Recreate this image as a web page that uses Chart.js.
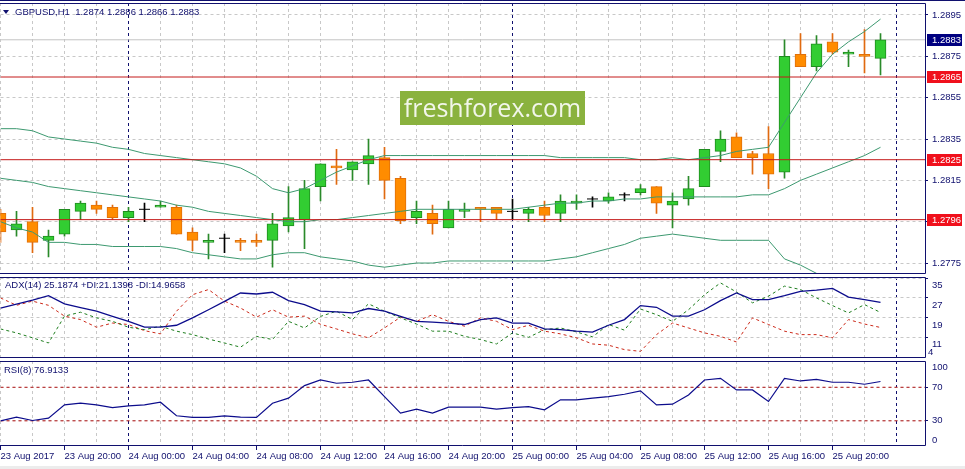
<!DOCTYPE html>
<html>
<head>
<meta charset="utf-8">
<script src="https://cdn.jsdelivr.net/npm/chart.js@4.4.1/dist/chart.umd.min.js"></script>
<style>
  html, body { margin: 0; padding: 0; background: #fff; }
  #wrap { position: relative; width: 965px; height: 469px; overflow: hidden; background: #fff;
          font-family: "Liberation Sans", Arial, sans-serif; }
  #wrap canvas { position: absolute; left: 0; }
  .ttl { position: absolute; font-size: 9.5px; line-height: 12px; color: #10106e; white-space: pre; }
  #tri { position: absolute; left: 3px; top: 10px; width: 0; height: 0;
         border-left: 3.5px solid transparent; border-right: 3.5px solid transparent; border-top: 4px solid #10106e; }
  #wm { position: absolute; left: 400px; top: 91px; width: 185px; height: 34px; background: #8ab23e;
        color: #f2f6ea; font-family: "Open Sans", sans-serif; font-size: 25px; line-height: 33px; text-align: center; }
  #foot { position: absolute; left: 0; top: 466px; width: 965px; height: 3px; background: #ececec; }
</style>
</head>
<body>
<div id="wrap">
  <canvas id="cMain" width="965" height="276" style="top:0"></canvas>
  <canvas id="cAdx" width="965" height="84" style="top:276px"></canvas>
  <canvas id="cRsi" width="965" height="106" style="top:360px"></canvas>
  <div id="tri"></div>
  <div class="ttl" id="tMain" style="left:15px;top:6px"></div>
  <div class="ttl" style="left:5px;top:279px">ADX(14) 25.1874 +DI:21.1398 -DI:14.9658</div>
  <div class="ttl" style="left:4px;top:364px">RSI(8) 76.9133</div>
  <div id="wm">freshforex.com</div>
  <div id="foot"></div>
</div>
<script>
// GBPUSD H1, index 0 = 23 Aug 16:00, last = 25 Aug 23:00
const opens  = [1.2799,1.2791,1.2795,1.2786,1.2789,1.2800,1.2803,1.2802,1.2797,1.2801,
                1.2802,1.2802,1.2790,1.2785,1.2787,1.2786,1.2786,1.2786,1.2793,1.2796,
                1.2812,1.2822,1.2820,1.2823,1.2826,1.2816,1.2797,1.2799,1.2792,1.2800,
                1.2802,1.2802,1.2800,1.2799,1.2802,1.2799,1.2804,1.2806,1.2805,1.2808,
                1.2809,1.2812,1.2803,1.2806,1.2812,1.2829,1.2836,1.2828,1.2828,1.2819,
                1.2876,1.2870,1.2882,1.2876,1.2876,1.2874];
const highs  = [1.2801,1.2800,1.2802,1.2791,1.2801,1.2805,1.2805,1.2803,1.2802,1.2804,
                1.2805,1.2803,1.2792,1.2789,1.2789,1.2787,1.2789,1.2799,1.2812,1.2815,
                1.2823,1.2830,1.2824,1.2835,1.2831,1.2817,1.2805,1.2803,1.2805,1.2804,
                1.2802,1.2802,1.2806,1.2802,1.2805,1.2808,1.2808,1.2807,1.2809,1.2809,
                1.2813,1.2812,1.2809,1.2817,1.2830,1.2839,1.2838,1.2829,1.2841,1.2883,
                1.2886,1.2885,1.2886,1.2878,1.2888,1.2886];
const lows   = [1.2785,1.2788,1.2780,1.2778,1.2788,1.2796,1.2799,1.2796,1.2795,1.2795,
                1.2802,1.2789,1.2781,1.2777,1.2780,1.2781,1.2783,1.2773,1.2790,1.2782,
                1.2805,1.2813,1.2815,1.2813,1.2806,1.2794,1.2794,1.2789,1.2792,1.2797,
                1.2795,1.2796,1.2796,1.2795,1.2795,1.2795,1.2801,1.2802,1.2804,1.2805,
                1.2808,1.2799,1.2792,1.2803,1.2812,1.2824,1.2826,1.2818,1.2811,1.2816,
                1.2870,1.2868,1.2876,1.2870,1.2867,1.2866];
const closes = [1.2790,1.2794,1.2785,1.2788,1.2801,1.2804,1.2801,1.2797,1.2800,1.2801,
                1.2803,1.2789,1.2786,1.2786,1.2787,1.2785,1.2785,1.2794,1.2797,1.2811,
                1.2823,1.2821,1.2824,1.2827,1.2815,1.27955,1.2800,1.2794,1.2801,1.2801,
                1.2801,1.2799,1.2800,1.2801,1.2798,1.2805,1.2805,1.2806,1.2807,1.2808,
                1.2811,1.2804,1.2805,1.2811,1.2830,1.2835,1.2826,1.2826,1.2818,1.2875,
                1.2870,1.2881,1.2877,1.2877,1.2875,1.2883];

// Bollinger bands
const bbUpper  = [1.2840,1.2840,1.2839,1.2836,1.2835,1.2834,1.2833,1.2831,1.2830,1.2828,
                  1.2827,1.2826,1.2825,1.2824,1.2823,1.2821,1.2817,1.2811,1.2809,1.2811,
                  1.2815,1.2819,1.2822,1.2825,1.2827,1.2827,1.2827,1.2827,1.2827,1.2827,
                  1.2827,1.2827,1.2827,1.2827,1.2827,1.2826,1.2826,1.2826,1.2826,1.2826,
                  1.2825,1.2825,1.2826,1.2825,1.2826,1.2827,1.2829,1.2830,1.2831,1.2843,
                  1.2855,1.2867,1.2876,1.2882,1.2887,1.2893];
const bbMiddle = [1.2816,1.2815,1.2814,1.2812,1.2811,1.2810,1.2809,1.2808,1.2807,1.2806,
                  1.2805,1.2803,1.2802,1.2800,1.2799,1.2798,1.2797,1.2796,1.2795,1.2795,
                  1.2796,1.2796,1.2797,1.2798,1.2799,1.2800,1.2801,1.2801,1.2801,1.2801,
                  1.2801,1.2801,1.2801,1.2802,1.2803,1.2804,1.2804,1.2805,1.2805,1.2806,
                  1.2806,1.2807,1.2807,1.2807,1.2807,1.2807,1.2807,1.2808,1.2808,1.2811,
                  1.2815,1.2818,1.2821,1.2824,1.2827,1.2831];
const bbLower  = [1.2795,1.2792,1.2790,1.2785,1.2785,1.2784,1.2784,1.2783,1.2783,1.2783,
                  1.2783,1.2782,1.2780,1.2779,1.2778,1.2777,1.2777,1.2779,1.2780,1.2780,
                  1.2778,1.2777,1.2776,1.2774,1.2773,1.2774,1.2775,1.2775,1.2776,1.2776,
                  1.2776,1.2776,1.2776,1.2776,1.2776,1.2777,1.2778,1.2780,1.2782,1.2784,
                  1.2787,1.2788,1.2789,1.2788,1.2787,1.2786,1.2786,1.2786,1.2786,1.2777,
                  1.2774,1.2770,1.2766,1.2763,1.2760,1.2757];

// ADX(14)
const adx     = [22.9,24.5,26.1,27.9,24.6,23.1,21.6,19.5,17.5,15.1,
                 15.1,15.9,18.9,22.2,25.6,29.0,28.6,29.3,25.9,24.3,
                 21.6,21.3,20.9,22.7,21.6,19.5,17.5,17.2,16.8,16.2,
                 18.2,18.9,16.8,16.8,14.4,14.1,13.5,13.1,15.9,18.2,
                 23.9,23.2,19.6,19.6,22.2,25.9,29.0,26.3,26.3,27.9,
                 29.7,30.2,30.9,27.3,26.3,25.2];
const plusDI  = [14.4,12.8,10.8,8.7,19.6,21.2,18.9,17.5,15.1,14.1,
                 15.5,13.5,12.1,10.3,8.7,7.0,11.4,10.1,17.5,14.8,
                 19.5,21.6,18.2,24.6,21.6,18.9,16.4,13.5,13.5,11.4,
                 10.1,8.3,12.8,11.0,14.1,14.8,13.2,11.2,16.2,13.9,
                 22.5,20.2,17.5,22.2,28.3,33.1,29.4,25.0,27.7,31.8,
                 30.4,27.0,23.9,20.9,24.3,21.1];
const minusDI = [27.0,24.0,25.7,24.0,19.6,18.2,15.1,16.8,16.2,13.7,
                 12.4,21.6,28.3,30.4,25.7,22.9,19.2,22.2,19.2,19.6,
                 16.3,14.4,12.4,10.8,14.8,19.2,17.5,20.2,17.5,15.5,
                 18.9,17.5,14.1,15.9,13.5,12.4,10.8,8.3,7.8,6.0,
                 5.3,12.1,16.8,14.8,12.8,11.4,9.1,18.9,16.2,13.5,
                 12.1,12.1,10.8,18.2,16.4,15.0];

// RSI(8)
const rsi = [30.0,34.4,30.4,33.2,49.0,51.0,49.0,45.8,47.8,49.0,
             52.2,36.0,34.0,34.0,36.0,34.4,34.0,51.0,57.0,72.0,
             78.7,74.8,76.0,78.7,58.9,39.2,43.9,39.2,46.3,46.3,
             46.3,43.9,45.8,47.0,43.1,55.0,55.0,57.0,58.9,61.7,
             65.7,49.0,49.8,60.9,78.7,80.7,66.8,66.8,53.0,80.7,
             77.5,79.5,76.0,76.0,73.6,76.9];

const hLevels = [1.2865, 1.2825, 1.2796];
const bidPrice = 1.2883;
const rsiLevels = [70, 30];
const priceTicks = [1.2775, 1.2795, 1.2815, 1.2835, 1.2855, 1.2875, 1.2895];
const adxTicks = [35, 27, 19, 11];
const adxMinLabel = 4;
const rsiTicks = [70, 30];
const rsiEdgeLabels = [100, 0];
const timeTickIdx = [0, 4, 8, 12, 16, 20, 24, 28, 32, 36, 40, 44, 48, 52];
const timeLabels = ['23 Aug 2017', '23 Aug 20:00', '24 Aug 00:00', '24 Aug 04:00', '24 Aug 08:00',
                    '24 Aug 12:00', '24 Aug 16:00', '24 Aug 20:00', '25 Aug 00:00', '25 Aug 04:00',
                    '25 Aug 08:00', '25 Aug 12:00', '25 Aug 16:00', '25 Aug 20:00'];
const daySepIdx = [8, 32, 56];

const NAVY = '#10106e';
const GRID = '#c8c8c8';
const X_MAX = 924.5 / 16;   // 16px per bar
const gridIdx = [];
for (let i = 0; i <= 56; i += 2) gridIdx.push(i);

Chart.defaults.font.family = '"Liberation Sans", Arial, sans-serif';
Chart.defaults.font.size = 9.5;

const last = opens.length - 1;
document.getElementById('tMain').textContent =
  'GBPUSD,H1  ' + [opens[last], highs[last], lows[last], closes[last]].map(v => v.toFixed(4)).join(' ');

// panel border (top, right, bottom)
const frame = {
  id: 'frame',
  afterDraw(chart, args, opts) {
    const { ctx, chartArea: a } = chart;
    const t = Math.round(a.top) + 0.5, b = Math.round(a.bottom) - 0.5, r = Math.round(a.right) + 0.5;
    ctx.save();
    ctx.strokeStyle = NAVY;
    ctx.lineWidth = 1;
    ctx.beginPath();
    ctx.moveTo(0, t); ctx.lineTo(r, t); ctx.lineTo(r, b); ctx.lineTo(0, b);
    if (opts.outer) { ctx.moveTo(0, 0.5); ctx.lineTo(chart.width, 0.5); }
    ctx.stroke();
    ctx.restore();
  }
};

// price tags and clamped edge labels on the right axis
const tags = {
  id: 'tags',
  afterDraw(chart, args, opts) {
    const { ctx, chartArea: a } = chart;
    const y = chart.scales.y;
    (opts.items || []).forEach(t => {
      let py = y.getPixelForValue(t.value);
      if (t.clamp) py = Math.min(Math.max(py, a.top + 6), a.bottom - 6);
      ctx.save();
      if (t.bg) {
        ctx.fillStyle = t.bg;
        ctx.fillRect(a.right + 2, Math.round(py) - 6, 35, 12);
      }
      ctx.fillStyle = t.color;
      ctx.font = '9.5px "Liberation Sans", Arial, sans-serif';
      ctx.textBaseline = 'middle';
      ctx.textAlign = 'left';
      ctx.fillText(t.text, a.right + (t.dx || 7), Math.round(py) + 0.5);
      ctx.restore();
    });
  }
};

function xScale(showLabels) {
  return {
    type: 'linear', min: 0, max: X_MAX, bounds: 'data', offset: false,
    afterBuildTicks: s => { s.ticks = gridIdx.map(v => ({ value: v })); },
    afterFit: s => { s.height = showLabels ? 20 : 0; s.paddingLeft = 0; s.paddingRight = 0; },
    grid: {
      offset: false,
      color: c => (c.tick && daySepIdx.includes(c.tick.value)) ? NAVY : GRID,
      tickColor: c => (c.tick && timeTickIdx.includes(c.tick.value)) ? NAVY : 'rgba(0,0,0,0)',
      drawTicks: showLabels, tickLength: 4, tickBorderDash: [], lineWidth: 1
    },
    border: { display: false, dash: [3, 3] },
    ticks: {
      display: showLabels, autoSkip: false, maxRotation: 0, minRotation: 0, align: 'start', padding: 1,
      color: NAVY,
      callback: v => { const k = timeTickIdx.indexOf(v); return k >= 0 ? timeLabels[k] : ''; }
    }
  };
}

function yScale(min, max, vals, fmt, labelOffset) {
  return {
    position: 'right', min: min, max: max, bounds: 'data',
    afterBuildTicks: s => { s.ticks = vals.map(v => ({ value: v })); },
    afterFit: s => { s.width = 40; s.paddingTop = 0; s.paddingBottom = 0; },
    grid: { color: GRID, tickLength: 3, tickColor: NAVY, tickBorderDash: [], lineWidth: 1 },
    border: { display: false, dash: [3, 3] },
    ticks: { color: NAVY, padding: 4, labelOffset: labelOffset, autoSkip: false, callback: fmt }
  };
}

function baseOptions(scales, padding, tagItems, outer) {
  return {
    responsive: false, animation: false, events: [], devicePixelRatio: 1,
    layout: { padding: padding, autoPadding: false },
    scales: scales,
    plugins: {
      legend: { display: false }, tooltip: { enabled: false },
      tags: { items: tagItems }, frame: { outer: outer }
    }
  };
}

const pts = arr => arr.map((v, i) => ({ x: i, y: v }));
const flat = v => [{ x: 0, y: v }, { x: X_MAX, y: v }];
const lineDs = (data, color, width, dash) => ({
  type: 'line', data: data, borderColor: color, borderWidth: width, borderDash: dash || [],
  pointRadius: 0, tension: 0, fill: false
});

// ---- main price panel ----
const idx = opens.map((_, i) => i);
const isDoji = i => opens[i] === closes[i];
const UP = '#32cd32', UP_EDGE = '#1f8c1f', DN = '#ff8c00', DN_EDGE = '#e0700a';
const wickColor = i => isDoji(i) ? '#000' : (closes[i] > opens[i] ? '#2a8a2a' : '#e06a10');

const mainDatasets = [
  ...hLevels.map(v => lineDs(flat(v), '#c41a1a', 1)),
  lineDs(pts(bbUpper), '#3d9970', 1),
  lineDs(pts(bbMiddle), '#3d9970', 1),
  lineDs(pts(bbLower), '#3d9970', 1),
  {
    type: 'bar', grouped: false, barThickness: 11, borderWidth: 1, borderSkipped: false,
    data: idx.filter(i => !isDoji(i)).map(i => ({ x: i, y: [opens[i], closes[i]] })),
    backgroundColor: c => c.raw.y[1] > c.raw.y[0] ? UP : DN,
    borderColor: c => c.raw.y[1] > c.raw.y[0] ? UP_EDGE : DN_EDGE
  },
  {
    type: 'line', showLine: false, pointStyle: 'line', pointRadius: 5.5, pointBorderWidth: 1,
    pointBorderColor: '#000', data: idx.filter(isDoji).map(i => ({ x: i, y: opens[i] }))
  },
  {
    type: 'bar', grouped: false, barThickness: 1, borderWidth: 0,
    data: idx.map(i => ({ x: i, y: [lows[i], highs[i]] })),
    backgroundColor: c => wickColor(c.raw.x)
  },
  lineDs(flat(bidPrice), '#c4c4c4', 1)
];

new Chart(document.getElementById('cMain'), {
  type: 'bar',
  data: { datasets: mainDatasets },
  options: baseOptions(
    { x: xScale(false), y: yScale(1.27697, 1.29008, priceTicks, v => v.toFixed(4), 0) },
    { top: 3, bottom: 2, left: 0.5, right: 0 },
    [{ value: bidPrice, text: bidPrice.toFixed(4), bg: '#000080', color: '#fff' }]
      .concat(hLevels.map(v => ({ value: v, text: v.toFixed(4), bg: '#f0101c', color: '#fff' }))),
    true),
  plugins: [frame, tags]
});

// ---- ADX panel ----
new Chart(document.getElementById('cAdx'), {
  type: 'line',
  data: { datasets: [
    lineDs(pts(adx), '#0c0c8c', 1.3),
    lineDs(pts(plusDI), '#1e7e1e', 1, [3, 3]),
    lineDs(pts(minusDI), '#cc2a1a', 1, [3, 3])
  ] },
  options: baseOptions(
    { x: xScale(false), y: yScale(2.6, 35.5, adxTicks, v => String(v), 7.5) },
    { top: 1, bottom: 2, left: 0.5, right: 0 },
    [{ value: adxMinLabel, text: String(adxMinLabel), color: NAVY, clamp: true, dx: 3 }],
    false),
  plugins: [frame, tags]
});

// ---- RSI panel ----
new Chart(document.getElementById('cRsi'), {
  type: 'line',
  data: { datasets: [
    lineDs(pts(rsi), '#0c0c8c', 1.2),
    ...rsiLevels.map(v => lineDs(flat(v), '#b81818', 1, [3, 3]))
  ] },
  options: baseOptions(
    { x: xScale(true), y: yScale(0, 101.3, rsiTicks, v => String(v), 0) },
    { top: 1, bottom: 0, left: 0.5, right: 0 },
    rsiEdgeLabels.map(v => ({ value: v, text: String(v), color: NAVY, clamp: true })),
    false),
  plugins: [frame, tags]
});
</script>
</body>
</html>
